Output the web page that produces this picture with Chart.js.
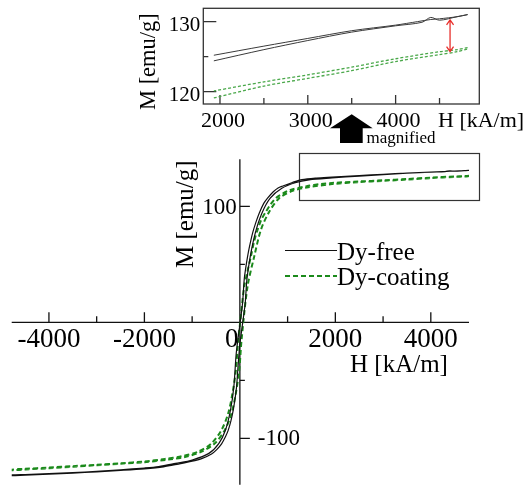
<!DOCTYPE html>
<html>
<head>
<meta charset="utf-8">
<script src="https://cdn.jsdelivr.net/npm/chart.js@4/dist/chart.umd.min.js"></script>
<style>
  html,body{margin:0;padding:0;background:#fff;}
  #wrap{position:relative;width:527px;height:487px;}
  #wrap canvas{position:absolute;left:0;top:0;}
</style>
</head>
<body>
<div id="wrap">
  <canvas id="main" width="527" height="487"></canvas>
  <canvas id="inset" width="527" height="150"></canvas>
</div>
<script>
// Dy-free loop, branch coming down from +saturation
var freeDownH = [4820, 4700, 4500, 4400, 4250, 4000, 3500, 3000, 2500, 1930, 1600, 1300, 1100, 900, 800, 700, 580, 500, 405, 330, 265, 200, 161, 120, 90, 56, 0, -76, -126, -196, -301, -439, -649, -998, -1348, -1700, -2000, -2500, -3000, -3500, -4000, -4500, -4780];
var freeDownM = [131.0, 130.7, 130.4, 130.3, 130.0, 129.5, 128.7, 127.6, 126.5, 125.2, 124.4, 123.0, 120.5, 117.5, 115.8, 112.5, 107, 102.5, 94, 85.5, 76.7, 65, 56.6, 46, 36.5, 16.4, -2, -26.7, -55.5, -75.6, -92.8, -104.3, -113, -118.7, -121.6, -124.3, -125.6, -127.2, -128.5, -129.6, -130.5, -131.2, -131.6];
// Dy-free loop, branch going up from -saturation
var freeUpH = [-4780, -4500, -4000, -3500, -3000, -2500, -2000, -1600, -1292, -942, -800, -593, -480, -383, -300, -245, -190, -140, -100, -70, -40, -20, 0, 60, 112, 146, 217, 321, 461, 636, 879, 1160, 1450, 1930, 2500, 3000, 3500, 4000, 4300, 4400, 4500, 4700, 4820];
var freeUpM = [-132.3, -131.7, -130.9, -130.0, -128.9, -127.7, -126.3, -124.6, -122.2, -119.2, -117.5, -113.5, -109.5, -104.8, -98.5, -93.2, -85.5, -76, -65.5, -56, -39, -28, -19, 0, 16.4, 36.5, 56.6, 76.7, 94, 107, 115.5, 120.3, 122.8, 124.4, 126.0, 127.3, 128.5, 129.4, 129.9, 130.6, 130.2, 130.7, 131.0];
// Dy-coating loop
var coatDownH = [4820, 4700, 4500, 4000, 3500, 3000, 2500, 1930, 1700, 1400, 1033, 900, 754, 650, 545, 450, 370, 300, 230, 160, 90, 0, -35, -83, -154, -244, -384, -593, -872, -1222, -1570, -2000, -2500, -3000, -3500, -4000, -4500, -4780];
var coatDownM = [126.3, 126.0, 125.7, 124.7, 123.5, 122.4, 121.4, 120.1, 119.2, 117.3, 113.8, 111.0, 107, 102, 95.3, 88.5, 79.6, 70, 56.6, 44, 30.7, -2.5, -15.3, -41, -61, -78.4, -92.8, -104.3, -111.5, -115.5, -117.8, -120.0, -121.5, -122.8, -124.0, -125.2, -126.3, -127.0];
var coatUpH = [-4780, -4500, -4000, -3500, -3000, -2500, -2000, -1500, -1152, -802, -523, -314, -174, -84, -13, 35, 160, 300, 440, 615, 824, 1103, 1400, 1930, 2500, 3000, 3500, 4000, 4500, 4700, 4820];
var coatUpM = [-127.6, -126.9, -125.8, -124.6, -123.3, -122.0, -120.6, -118.3, -116.2, -111.5, -104.3, -92.8, -78.4, -61, -41, -15.3, 30.7, 56.6, 79.6, 95.3, 107, 113.3, 116.2, 119.1, 120.8, 121.9, 123.0, 124.3, 125.3, 125.7, 126.1];

var seriesNames = ['Dy-free', 'Dy-coating'];

// ticks
var mainXTicks = [-4000, -2000, 0, 2000, 4000];
var mainXMinor = [-3000, -1000, 1000, 3000];
var mainYTicks = [100, -100];
var mainYMinor = [50, -50];
var insetXTicks = [2000, 3000, 4000];
var insetXMinor = [2500, 3500, 4500];
var insetYTicks = [130, 120];
var insetYMinor = [125];
var insetFrom = 1930;   // the magnified view only shows data above this field
var gapAt = 4620;       // red arrow position
var gapTop = 130.24, gapBottom = 125.7;

var SERIF = '"Liberation Serif", "Times New Roman", serif';

function pts(h, m, from){
  var out = [];
  for (var i = 0; i < h.length; i++) {
    if (from === undefined || h[i] >= from) out.push({x: h[i], y: m[i]});
  }
  return out;
}

function text(ctx, s, x, y, size, align){
  ctx.font = size + 'px ' + SERIF;
  ctx.textAlign = align || 'left';
  ctx.textBaseline = 'alphabetic';
  ctx.fillStyle = '#000';
  ctx.fillText(s, x, y);
}

function vtext(ctx, s, x, y, size){
  ctx.save();
  ctx.translate(x, y);
  ctx.rotate(-Math.PI / 2);
  text(ctx, s, 0, 0, size, 'left');
  ctx.restore();
}

var mainAxes = {
  id: 'mainAxes',
  beforeDatasetsDraw: function(chart){
    var ctx = chart.ctx, xs = chart.scales.x, ys = chart.scales.y, a = chart.chartArea;
    var ox = xs.getPixelForValue(0), oy = ys.getPixelForValue(0);
    ctx.save();
    ctx.strokeStyle = '#111';
    ctx.lineWidth = 1.3;
    ctx.beginPath();
    ctx.moveTo(a.left, oy); ctx.lineTo(a.right, oy);
    ctx.moveTo(ox, a.top); ctx.lineTo(ox, a.bottom);
    mainXTicks.forEach(function(v){
      if (v === 0) return;
      var px = xs.getPixelForValue(v);
      ctx.moveTo(px, oy); ctx.lineTo(px, oy - 10);
    });
    mainXMinor.forEach(function(v){
      var px = xs.getPixelForValue(v);
      ctx.moveTo(px, oy); ctx.lineTo(px, oy - 6);
    });
    mainYTicks.forEach(function(v){
      var py = ys.getPixelForValue(v);
      ctx.moveTo(ox, py); ctx.lineTo(ox + 10, py);
    });
    mainYMinor.forEach(function(v){
      var py = ys.getPixelForValue(v);
      ctx.moveTo(ox, py); ctx.lineTo(ox + 5, py);
    });
    ctx.stroke();

    mainXTicks.forEach(function(v){
      var px = xs.getPixelForValue(v) + (v === 0 ? -8 : 0);
      text(ctx, String(v), px, oy + 25, 27, 'center');
    });
    mainYTicks.forEach(function(v){
      var py = ys.getPixelForValue(v);
      if (v > 0) text(ctx, String(v), ox - 3, py + 7.5, 23, 'right');
      else text(ctx, String(v), ox + 18, py + 7, 23, 'left');
    });
    text(ctx, 'H [kA/m]', 350, 372, 25, 'left');
    vtext(ctx, 'M [emu/g]', 193, 268, 25);

    // legend
    var ds = chart.data.datasets;
    var rows = [{y: 250.5, ty: 260}, {y: 276, ty: 285}];
    ds.forEach(function(d, i){
      ctx.save();
      ctx.strokeStyle = d.borderColor;
      ctx.lineWidth = d.borderWidth;
      ctx.setLineDash(d.borderDash || []);
      ctx.beginPath();
      ctx.moveTo(285, rows[i].y); ctx.lineTo(337, rows[i].y);
      ctx.stroke();
      ctx.restore();
      text(ctx, d.label, 337, rows[i].ty, 25, 'left');
    });

    // frame marking the magnified region
    ctx.strokeStyle = '#333';
    ctx.lineWidth = 1.2;
    ctx.strokeRect(299.5, 153.5, 180, 47);
    ctx.restore();
  }
};

var insetAxes = {
  id: 'insetAxes',
  beforeDatasetsDraw: function(chart){
    var ctx = chart.ctx, xs = chart.scales.x, ys = chart.scales.y, a = chart.chartArea;
    ctx.save();
    ctx.strokeStyle = '#333';
    ctx.lineWidth = 1.3;
    ctx.strokeRect(a.left, a.top, a.right - a.left, a.bottom - a.top);
    ctx.beginPath();
    insetXTicks.forEach(function(v){
      var px = xs.getPixelForValue(v);
      ctx.moveTo(px, a.bottom); ctx.lineTo(px, a.bottom - 9);
    });
    insetXMinor.forEach(function(v){
      var px = xs.getPixelForValue(v);
      ctx.moveTo(px, a.bottom); ctx.lineTo(px, a.bottom - 6);
    });
    insetYTicks.forEach(function(v){
      var py = ys.getPixelForValue(v);
      ctx.moveTo(a.left, py); ctx.lineTo(a.left + 13, py);
    });
    insetYMinor.forEach(function(v){
      var py = ys.getPixelForValue(v);
      ctx.moveTo(a.left, py); ctx.lineTo(a.left + 5, py);
    });
    ctx.stroke();

    insetXTicks.forEach(function(v){
      text(ctx, String(v), xs.getPixelForValue(v) + 3, 127, 22, 'center');
    });
    insetYTicks.forEach(function(v){
      text(ctx, String(v), a.left - 3, ys.getPixelForValue(v) + 9.8, 21, 'right');
    });
    text(ctx, 'H [kA/m]', 438, 127, 22, 'left');
    vtext(ctx, 'M [emu/g]', 155, 110, 22.5);

    // "magnified" arrow
    ctx.fillStyle = '#000';
    ctx.beginPath();
    ctx.moveTo(351.7, 114.3);
    ctx.lineTo(372.7, 128.3);
    ctx.lineTo(362.7, 128.3);
    ctx.lineTo(362.7, 143);
    ctx.lineTo(340, 143);
    ctx.lineTo(340, 128.3);
    ctx.lineTo(330, 128.3);
    ctx.closePath();
    ctx.fill();
    text(ctx, 'magnified', 366.5, 143, 17, 'left');
    ctx.restore();
  },
  afterDatasetsDraw: function(chart){
    var ctx = chart.ctx, xs = chart.scales.x, ys = chart.scales.y;
    var px = xs.getPixelForValue(gapAt);
    var y1 = ys.getPixelForValue(gapTop), y2 = ys.getPixelForValue(gapBottom);
    ctx.save();
    ctx.strokeStyle = '#e8302c';
    ctx.lineWidth = 1.3;
    ctx.beginPath();
    ctx.moveTo(px, y1); ctx.lineTo(px, y2);
    ctx.moveTo(px - 3.5, y1 + 5); ctx.lineTo(px, y1); ctx.lineTo(px + 3.5, y1 + 5);
    ctx.moveTo(px - 3.5, y2 - 5); ctx.lineTo(px, y2); ctx.lineTo(px + 3.5, y2 - 5);
    ctx.stroke();
    ctx.restore();
  }
};

var common = {
  responsive: false,
  animation: false,
  events: [],
  plugins: {legend: {display: false}, tooltip: {enabled: false}},
  elements: {point: {radius: 0}, line: {tension: 0.3}}
};

new Chart(document.getElementById('main'), {
  type: 'line',
  data: {
    datasets: [
      {label: seriesNames[0], data: pts(freeDownH, freeDownM).concat(pts(freeUpH, freeUpM)),
       borderColor: '#111', borderWidth: 1.2, fill: false},
      {label: seriesNames[1], data: pts(coatDownH, coatDownM).concat(pts(coatUpH, coatUpM)),
       borderColor: '#1b8a1b', borderWidth: 2, borderDash: [5, 3], fill: false}
    ]
  },
  options: Object.assign({}, common, {
    layout: {padding: {left: 11.7, right: 58, top: 159.3, bottom: 2.3}},
    scales: {
      x: {type: 'linear', min: -4780, max: 4800, display: false},
      y: {type: 'linear', min: -140, max: 140.5, display: false}
    }
  }),
  plugins: [mainAxes]
});

new Chart(document.getElementById('inset'), {
  type: 'line',
  data: {
    datasets: [
      {label: seriesNames[0], data: pts(freeDownH, freeDownM, insetFrom), borderColor: '#3a3a3a', borderWidth: 1, fill: false},
      {label: seriesNames[0], data: pts(freeUpH, freeUpM, insetFrom), borderColor: '#3a3a3a', borderWidth: 1, fill: false},
      {label: seriesNames[1], data: pts(coatDownH, coatDownM, insetFrom), borderColor: '#4aa84a', borderWidth: 1.3, borderDash: [3, 2], fill: false},
      {label: seriesNames[1], data: pts(coatUpH, coatUpM, insetFrom), borderColor: '#4aa84a', borderWidth: 1.3, borderDash: [3, 2], fill: false}
    ]
  },
  options: Object.assign({}, common, {
    layout: {padding: {left: 203.3, right: 47.7, top: 8.3, bottom: 46}},
    scales: {
      x: {type: 'linear', min: 1810, max: 4953, display: false},
      y: {type: 'linear', min: 118.24, max: 131.9, display: false}
    }
  }),
  plugins: [insetAxes]
});
</script>
</body>
</html>
